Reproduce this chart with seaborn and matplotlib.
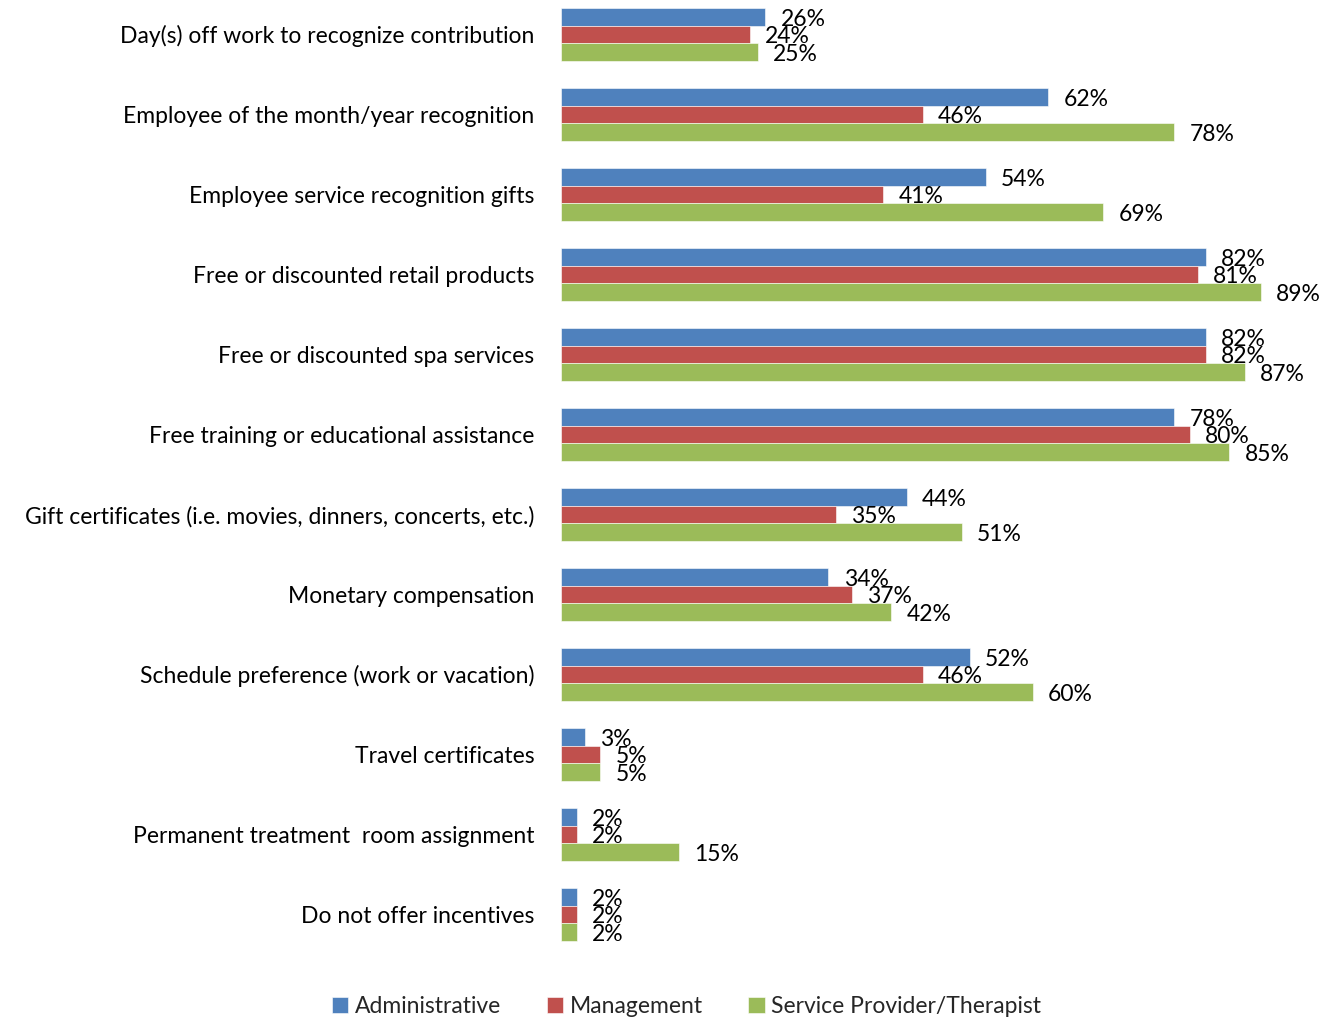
import matplotlib
matplotlib.use("Agg")
import matplotlib.pyplot as plt
import seaborn as sns
import pandas as pd

categories = [
    "Day(s) off work to recognize contribution",
    "Employee of the month/year recognition",
    "Employee service recognition gifts",
    "Free or discounted retail products",
    "Free or discounted spa services",
    "Free training or educational assistance",
    "Gift certificates (i.e. movies, dinners, concerts, etc.)",
    "Monetary compensation",
    "Schedule preference (work or vacation)",
    "Travel certificates",
    "Permanent treatment  room assignment",
    "Do not offer incentives",
]
series = ["Administrative", "Management", "Service Provider/Therapist"]
administrative = [26, 62, 54, 82, 82, 78, 44, 34, 52, 3, 2, 2]
management = [24, 46, 41, 81, 82, 80, 35, 37, 46, 5, 2, 2]
therapist = [25, 78, 69, 89, 87, 85, 51, 42, 60, 5, 15, 2]
colors = ["#4F81BD", "#C0504D", "#9BBB59"]

rows = []
for name, vals in zip(series, [administrative, management, therapist]):
    for cat, v in zip(categories, vals):
        rows.append({"category": cat, "group": name, "value": v})
df = pd.DataFrame(rows)

sns.set_theme(style="white")
plt.rcParams["font.family"] = ["Lato", "DejaVu Sans"]
FS = 16.5

fig = plt.figure(figsize=(13.33, 10.17), dpi=100)
ax = fig.add_axes([561 / 1333, 57 / 1017, 1 - 561 / 1333, 960 / 1017])

sns.barplot(
    data=df, y="category", x="value", hue="group", order=categories,
    hue_order=series, palette=colors, saturation=1, orient="h", width=0.66,
    gap=0, edgecolor="white", linewidth=0.4, ax=ax, legend=True,
)

# value labels sit just right of each bar, slightly below its centre
for cont, vals in zip(ax.containers, [administrative, management, therapist]):
    texts = ax.bar_label(cont, labels=[f"{v}%" for v in vals], padding=11,
                         fontsize=FS, color="black")
    for t in texts:
        t.xyann = (11, -1.8)

ax.set_xlim(0, 98.2)
ax.set_ylim(11.57, -0.43)
ax.set_xlabel("")
ax.set_ylabel("")
ax.set_xticks([])
ax.tick_params(axis="y", length=0, pad=19, labelsize=FS)
for lbl in ax.get_yticklabels():
    lbl.set_color("black")
for s in ax.spines.values():
    s.set_visible(False)

handles, labels = ax.get_legend_handles_labels()
ax.get_legend().remove()
fig.legend(handles, labels, loc="lower center", bbox_to_anchor=(0.515, -0.02),
           ncol=3, frameon=False, fontsize=FS, handlelength=0.7,
           handleheight=0.7, handletextpad=0.3, columnspacing=2.0)

fig.savefig("out.png", dpi=100)
